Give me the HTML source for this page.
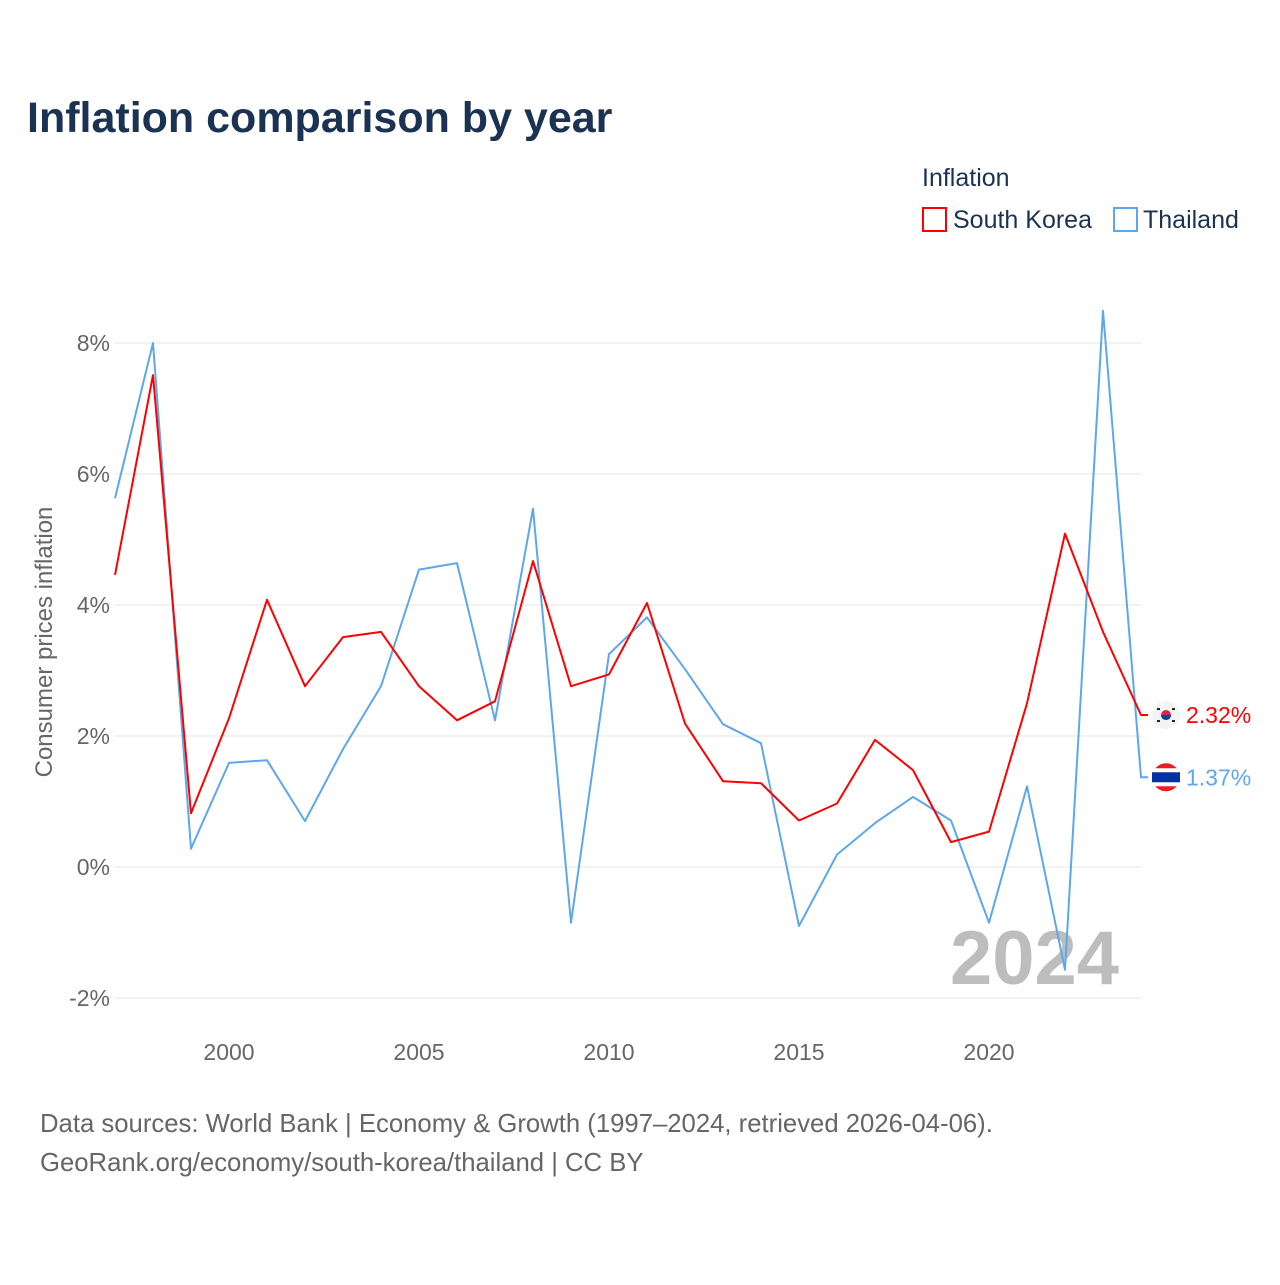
<!DOCTYPE html>
<html><head><meta charset="utf-8"><style>
body{margin:0;background:#fff;font-family:"Liberation Sans",sans-serif;}
svg text{font-family:"Liberation Sans",sans-serif;}
</style></head><body>
<svg width="1280" height="1280" viewBox="0 0 1280 1280">
<rect width="1280" height="1280" fill="#fff"/>
<text x="27" y="132" font-size="43" font-weight="bold" fill="#1b3252">Inflation comparison by year</text>
<text x="922" y="186" font-size="25" fill="#1b3252">Inflation</text>
<g><rect x="923" y="208" width="23" height="23" fill="none" stroke="#ff0000" stroke-width="2"/><text x="953" y="228" font-size="25" fill="#1b3252">South Korea</text></g>
<g><rect x="1114" y="208" width="23" height="23" fill="none" stroke="#5ea7ec" stroke-width="2"/><text x="1143" y="228" font-size="25" fill="#1b3252">Thailand</text></g>
<g id="grid"></g><g id="yticks"></g><g id="xticks"></g>
<text x="950" y="984" font-size="76" font-weight="bold" fill="#bdbdbd">2024</text>
<text transform="translate(52,642) rotate(-90)" text-anchor="middle" font-size="24" fill="#666">Consumer prices inflation</text>
<g id="series"></g>
<text x="40" y="1132" font-size="25.7" fill="#666">Data sources: World Bank | Economy &amp; Growth (1997–2024, retrieved 2026-04-06).</text>
<text x="40" y="1171" font-size="25.7" fill="#666">GeoRank.org/economy/south-korea/thailand | CC BY</text>
</svg>
<script>
const years=[1997,1998,1999,2000,2001,2002,2003,2004,2005,2006,2007,2008,2009,2010,2011,2012,2013,2014,2015,2016,2017,2018,2019,2020,2021,2022,2023,2024];
const korea=[4.46,7.51,0.82,2.27,4.08,2.76,3.51,3.59,2.76,2.24,2.53,4.67,2.76,2.94,4.03,2.19,1.31,1.28,0.71,0.97,1.94,1.48,0.38,0.54,2.50,5.09,3.59,2.32];
const thailand=[5.63,8.0,0.28,1.59,1.63,0.70,1.80,2.76,4.54,4.64,2.24,5.47,-0.85,3.25,3.81,3.02,2.18,1.89,-0.90,0.19,0.67,1.07,0.71,-0.85,1.23,-1.57,8.49,1.37];
const yTicks=[-2,0,2,4,6,8];
const xTicks=[2000,2005,2010,2015,2020];
const NS="http://www.w3.org/2000/svg";
const X=y=>115+(y-1997)*(1141-115)/27;
const Y=v=>867-v*65.5;
function mk(tag,attrs,parent){const e=document.createElementNS(NS,tag);for(const k in attrs)e.setAttribute(k,attrs[k]);parent.appendChild(e);return e;}
const grid=document.getElementById('grid'),yt=document.getElementById('yticks'),xt=document.getElementById('xticks'),ser=document.getElementById('series');
yTicks.forEach(v=>{
 const l=mk('line',{x1:115,x2:1141,y1:Y(v),y2:Y(v),stroke:'#e6e6e6','stroke-width':1},grid);
 
 
 const t=mk('text',{x:110,y:Y(v)+8,'text-anchor':'end','font-size':23,fill:'#666'},yt);
 t.textContent=v+'%';
 
 
});
xTicks.forEach(v=>{
 const t=mk('text',{x:X(v),y:1060,'text-anchor':'middle','font-size':23,fill:'#666'},xt);
 t.textContent=v;
 
 
});
function line(vals,color,name){
 let d=vals.map((v,i)=>(i?'L':'M')+X(years[i]).toFixed(1)+','+Y(v).toFixed(1)).join(' ');
 d+=' L'+(X(years[years.length-1])+7)+','+Y(vals[vals.length-1]).toFixed(1);
 const p=mk('path',{d:d,fill:'none',stroke:color,'stroke-width':2,'stroke-linejoin':'round'},ser);
 
 
}
line(thailand,'#5ea7ec','thailand-line');
line(korea,'#ff0000','south-korea-line');
function endLabel(v,color,name,flag){
 const y=Y(v),g=mk('g',{},ser);
 
 
 const cx=1166;
 if(flag==='kr'){
  mk('circle',{cx:cx,cy:y,r:14,fill:'#f4f4f4'},g);
  mk('circle',{cx:cx,cy:y,r:5,fill:'#cd2e3a'},g);
  mk('path',{d:`M${cx-5},${y} a5,5 0 0,0 10,0 z`,fill:'#0047a0'},g);
  [[-9,-7],[6,-7],[-9,5],[6,5]].forEach(o=>mk('rect',{x:cx+o[0],y:y+o[1],width:3,height:2,fill:'#222'},g));
 }else{
  mk('circle',{cx:cx,cy:y,r:14,fill:'#ed1c24'},g);
  mk('rect',{x:cx-14,y:y-9,width:28,height:18,fill:'#fff'},g);
  mk('rect',{x:cx-14,y:y-5,width:28,height:10,fill:'#0033a0'},g);
 }
 const t=mk('text',{x:1186,y:y+8,'font-size':23,fill:color},g);
 t.textContent=v.toFixed(2)+'%';
}
endLabel(korea[korea.length-1],'#ff0000','south-korea-end-label','kr');
endLabel(thailand[thailand.length-1],'#5ea7ec','thailand-end-label','th');
</script>
</body></html>
